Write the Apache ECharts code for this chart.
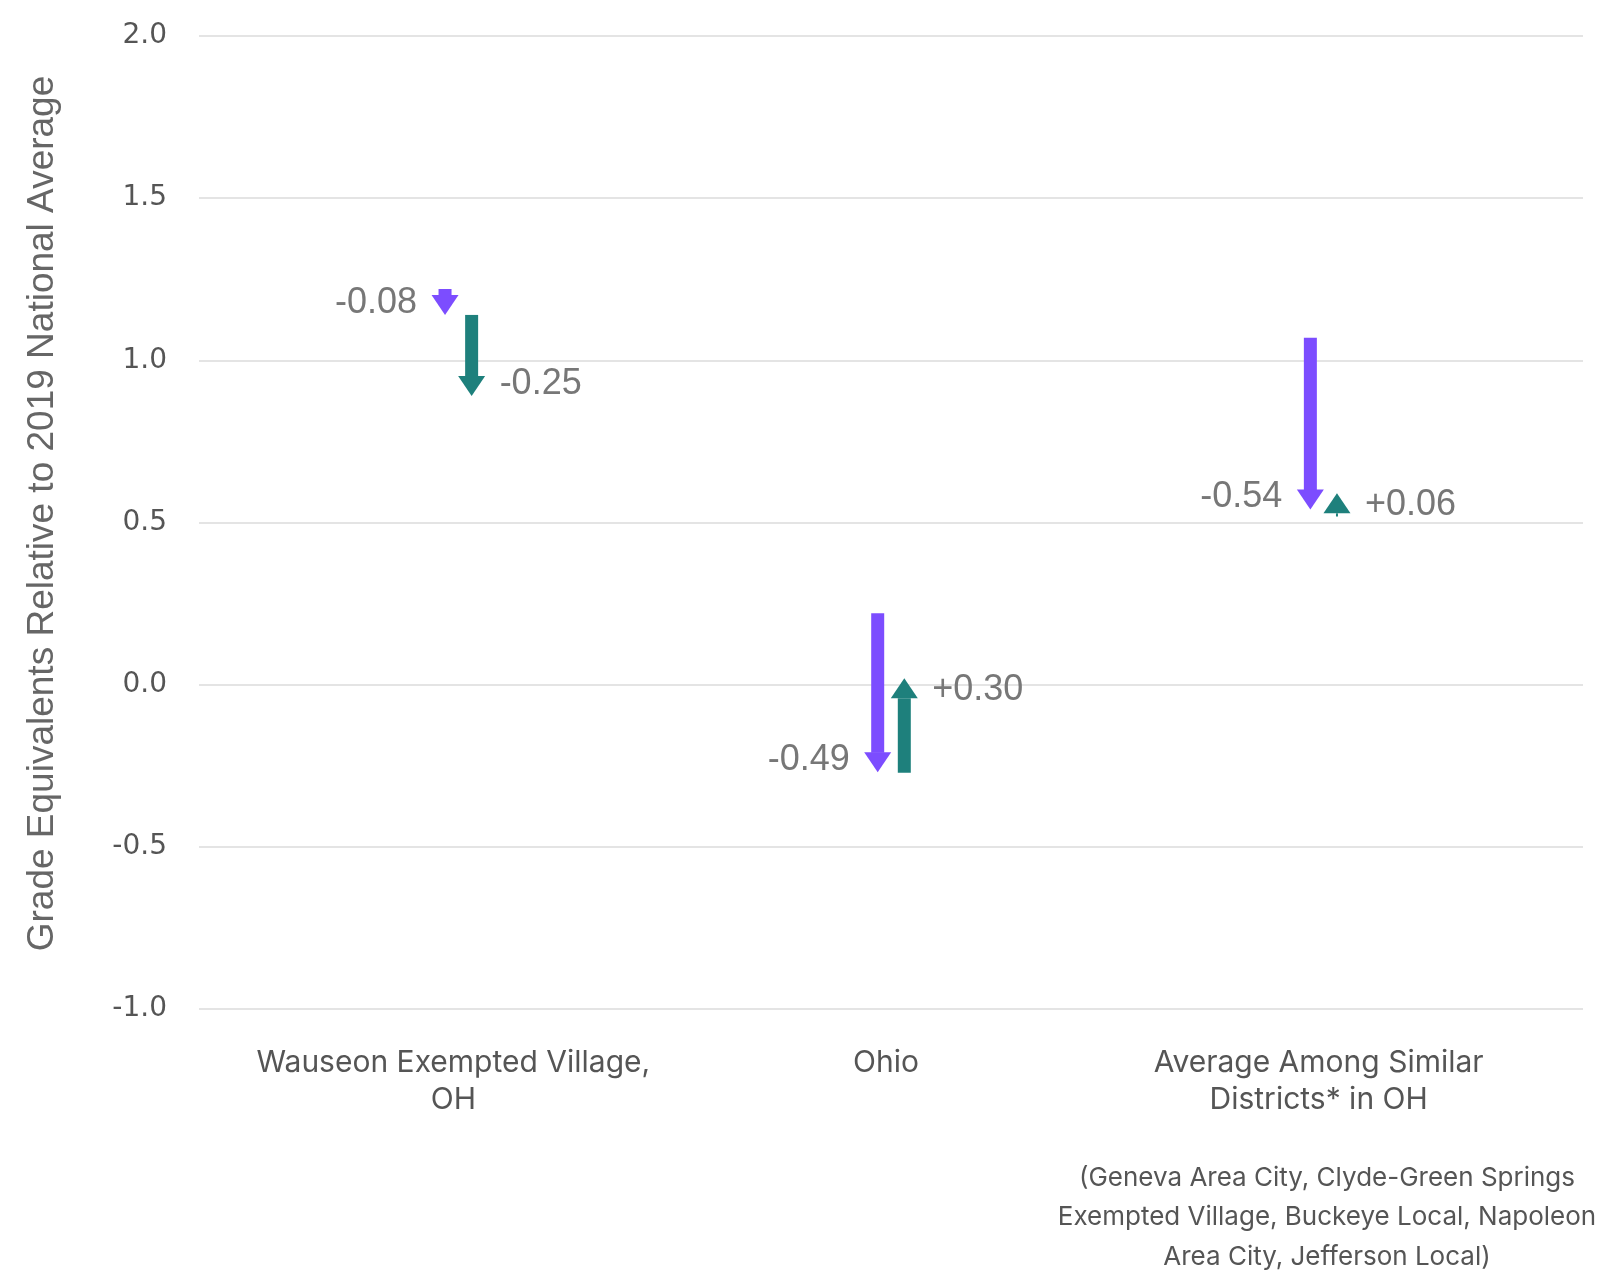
<!DOCTYPE html>
<html>
<head>
<meta charset="utf-8">
<script src="https://cdn.jsdelivr.net/npm/echarts@6/dist/echarts.min.js"></script>
<style>
html,body{margin:0;padding:0;background:#fff;}
#chart{width:1603px;height:1272px;}
</style>
</head>
<body>
<div id="chart"></div>
<script>
// ---- data ----
const categories = ['Wauseon Exempted Village,\nOH', 'Ohio', 'Average Among Similar\nDistricts* in OH'];
const yTicks = [-1.0, -0.5, 0.0, 0.5, 1.0, 1.5, 2.0];
// purple arrows (first change)
const purpleStart = [1.22, 0.22, 1.07];
const purpleEnd   = [1.14, -0.27, 0.54];
const purpleLabels = ['-0.08', '-0.49', '-0.54'];
// teal arrows (second change)
const tealStart = [1.14, -0.27, 0.52];
const tealEnd   = [0.89, 0.02, 0.59];
const tealLabels = ['-0.25', '+0.30', '+0.06'];
const yTitle = 'Grade Equivalents Relative to 2019 National Average';
const noteLines = ['(Geneva Area City, Clyde-Green Springs', 'Exempted Village, Buckeye Local, Napoleon', 'Area City, Jefferson Local)'];

const PURPLE = '#7c4dff';
const TEAL = '#1e807c';

function arrowRenderer(color, offset, side, labels) {
  return function (params, api) {
    const idx = api.value(0);
    const cx = api.coord([idx, 0])[0] + offset;
    const y0 = api.coord([idx, api.value(1)])[1];
    const y1 = api.coord([idx, api.value(2)])[1];
    const dir = y1 > y0 ? 1 : -1;
    const headH = 20, headW = 27, shaftW = 13;
    const base = y1 - dir * headH;
    const children = [];
    const shaftLen = (base - y0) * dir;
    if (shaftLen > 0) {
      const w = shaftLen < 4.5 ? 2 : shaftW;
      children.push({
        type: 'rect',
        shape: { x: cx - w / 2, y: Math.min(y0, base), width: w, height: Math.abs(base - y0) + 0.5 },
        style: { fill: color }
      });
    }
    children.push({
      type: 'polygon',
      shape: { points: [[cx - headW / 2, base], [cx + headW / 2, base], [cx, y1]] },
      style: { fill: color }
    });
    children.push({
      type: 'text',
      style: {
        text: labels[params.dataIndex],
        x: side < 0 ? cx - 28 : cx + 28,
        y: y1 - dir * 12,
        align: side < 0 ? 'right' : 'left',
        verticalAlign: 'middle',
        fill: '#777777',
        font: '36px "Liberation Sans", Arial, sans-serif'
      }
    });
    return { type: 'group', children: children };
  };
}

const purpleData = categories.map((c, i) => [i, purpleStart[i], purpleEnd[i]]);
const tealData = categories.map((c, i) => [i, tealStart[i], tealEnd[i]]);

const chart = echarts.init(document.getElementById('chart'), null, { renderer: 'canvas' });
chart.setOption({
  backgroundColor: '#ffffff',
  animation: false,
  grid: [
    { left: 199, right: 20, top: 36, bottom: 263 },
    { left: 242, right: 63, top: 36, bottom: 263 }
  ],
  xAxis: [
    { gridIndex: 0, type: 'category', data: categories, show: false },
    {
      gridIndex: 1, type: 'category', data: categories,
      axisLine: { show: false }, axisTick: { show: false }, splitLine: { show: false },
      axisLabel: {
        interval: 0, margin: 35, fontSize: 30, lineHeight: 37, color: '#555555',
        fontFamily: 'Inter, "Noto Sans", sans-serif', padding: [0, 10, 0, 0]
      }
    }
  ],
  yAxis: [
    {
      gridIndex: 0, type: 'value', min: -1, max: 2, interval: 0.5,
      axisLine: { show: false }, axisTick: { show: false },
      splitLine: { show: true, lineStyle: { color: '#e4e4e4', width: 2 } },
      axisLabel: {
        margin: 32, fontSize: 28, color: '#555555', fontFamily: '"DejaVu Sans", sans-serif',
        padding: [6, 0, 0, 0],
        formatter: v => (yTicks.indexOf(v) >= 0 ? v.toFixed(1) : '')
      },
      name: yTitle, nameLocation: 'middle', nameRotate: 90, nameGap: 138,
      nameTextStyle: { fontSize: 37, color: '#666666', fontFamily: '"Liberation Sans", Arial, sans-serif', padding: [0, 0, 0, 18] }
    },
    { gridIndex: 1, type: 'value', min: -1, max: 2, interval: 0.5, show: false, splitLine: { show: false } }
  ],
  graphic: [{
    type: 'text',
    x: 1327, y: 1158,
    style: {
      text: noteLines.join('\n'),
      align: 'center', verticalAlign: 'top',
      lineHeight: 39.5, fill: '#555555',
      font: '26px Inter, "Noto Sans", sans-serif'
    }
  }],
  series: [
    { type: 'custom', xAxisIndex: 1, yAxisIndex: 1, renderItem: arrowRenderer(PURPLE, -13.3, -1, purpleLabels), data: purpleData, encode: { x: 0, y: [1, 2] } },
    { type: 'custom', xAxisIndex: 1, yAxisIndex: 1, renderItem: arrowRenderer(TEAL, 13.3, 1, tealLabels), data: tealData, encode: { x: 0, y: [1, 2] } }
  ]
});
</script>
</body>
</html>
